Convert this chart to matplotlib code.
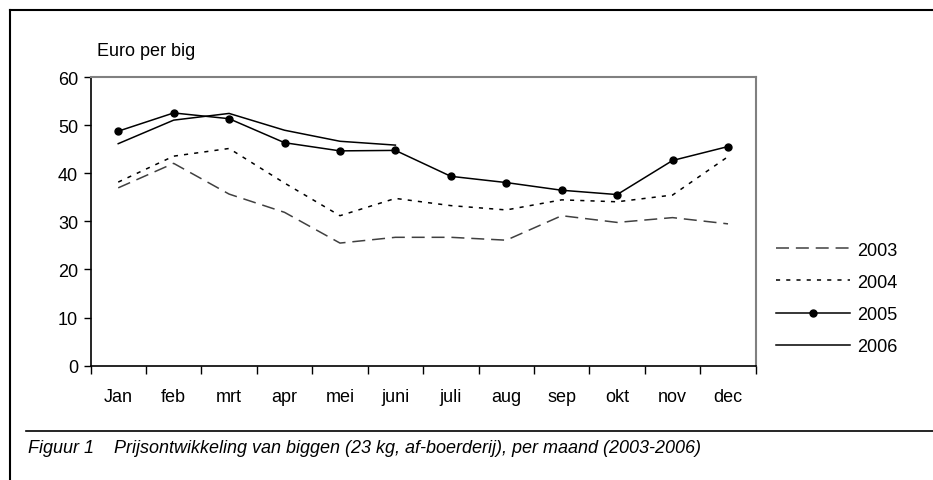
import numpy as np
import matplotlib
matplotlib.use("Agg")
import matplotlib.pyplot as plt
from matplotlib.lines import Line2D

plt.rcParams['font.family'] = ['Liberation Sans', 'DejaVu Sans']

months = ['Jan', 'feb', 'mrt', 'apr', 'mei', 'juni', 'juli', 'aug', 'sep', 'okt', 'nov', 'dec']
p2003 = [37.0, 42.1, 35.7, 31.9, 25.5, 26.7, 26.7, 26.1, 31.2, 29.8, 30.8, 29.5]
p2004 = [38.2, 43.6, 45.2, 38.0, 31.2, 34.8, 33.3, 32.4, 34.5, 34.1, 35.5, 43.5]
p2005 = [48.8, 52.6, 51.4, 46.4, 44.7, 44.8, 39.4, 38.1, 36.5, 35.6, 42.7, 45.6]
p2006 = [46.2, 51.1, 52.5, 49.0, 46.7, 45.9]

fig = plt.figure(figsize=(9.33, 4.81), dpi=100)
ax = fig.add_axes([0.097, 0.238, 0.713, 0.599])

x = np.arange(len(months))
lw = 1.1
ax.plot(x, p2003, color='#404040', lw=lw, linestyle=(0, (8.5, 4.5)), label='2003')
ax.plot(x, p2004, color='black', lw=lw, linestyle=(0, (2.7, 4.0)), label='2004')
ax.plot(x, p2005, color='black', lw=lw, marker='o', markersize=5, label='2005')
ax.plot(x[:len(p2006)], p2006, color='black', lw=lw, label='2006')

ax.set_xlim(-0.5, 11.5)
ax.set_ylim(0, 60)
ax.set_yticks(range(0, 61, 10))
ax.set_xticks(np.arange(-0.5, 12, 1))
ax.set_xticklabels([])
ax.set_xticks(x, minor=True)
ax.set_xticklabels(months, minor=True)
ax.tick_params(axis='x', which='major', length=6, direction='out', width=1)
ax.tick_params(axis='x', which='minor', length=0, pad=16, labelsize=13)
ax.tick_params(axis='y', length=5, direction='out', width=1, labelsize=13, pad=4)

for s in ['left', 'bottom']:
    ax.spines[s].set_color('black')
    ax.spines[s].set_linewidth(1.2)
for s in ['top', 'right']:
    ax.spines[s].set_color('#808080')
    ax.spines[s].set_linewidth(1.5)

ax.text(0.01, 1.064, 'Euro per big', transform=ax.transAxes, fontsize=13, ha='left', va='bottom')

ax.legend(loc='upper left', bbox_to_anchor=(1.03, 0.43), frameon=False, fontsize=13,
          handlelength=4.1, handletextpad=0.39, labelspacing=0.84, borderaxespad=0,
          borderpad=0)

# frame and caption
fig.add_artist(Line2D([10/933, 10/933], [0, 1 - 11/481], color='black', lw=1.5, transform=fig.transFigure))
fig.add_artist(Line2D([10/933, 1], [1 - 11/481, 1 - 11/481], color='black', lw=1.5, transform=fig.transFigure))
fig.add_artist(Line2D([26/933, 1], [1 - 432/481, 1 - 432/481], color='black', lw=1.2, transform=fig.transFigure))
fig.text(28/933, 1 - 449/481, 'Figuur 1    Prijsontwikkeling van biggen (23 kg, af-boerderij), per maand (2003-2006)',
         fontsize=13, style='italic', ha='left', va='center')

fig.savefig('out.png', dpi=100)
